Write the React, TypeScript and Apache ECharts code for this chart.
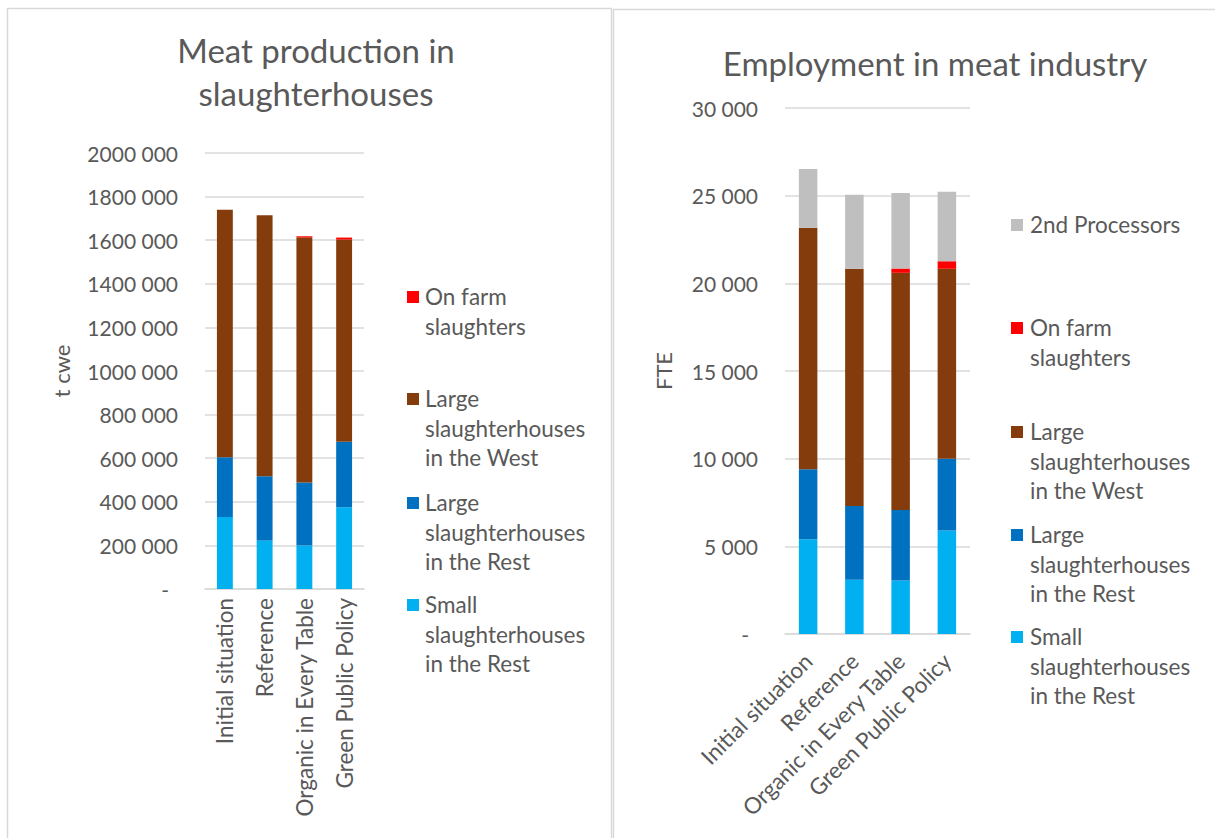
import { useEffect, useRef } from 'react';
import * as echarts from 'echarts';

const categories = ['Initial situation', 'Reference', 'Organic in Every Table', 'Green Public Policy'];

// Meat production in slaughterhouses (t cwe)
const prodSmallRest = [330000, 223000, 199000, 375000];
const prodLargeRest = [274000, 294000, 289000, 301000];
const prodLargeWest = [1136000, 1198000, 1124000, 927000];
const prodOnFarm = [0, 0, 6000, 9000];

// Employment in meat industry (FTE)
const empSmallRest = [5400, 3100, 3050, 5900];
const empLargeRest = [4000, 4200, 4020, 4100];
const empLargeWest = [13770, 13530, 13530, 10830];
const empOnFarm = [0, 0, 245, 430];
const empSecond = [3350, 4220, 4300, 3970];

const NAME_SMALL = 'Small slaughterhouses in the Rest';
const NAME_LREST = 'Large slaughterhouses in the Rest';
const NAME_LWEST = 'Large slaughterhouses in the West';
const NAME_FARM = 'On farm slaughters';
const NAME_SECOND = '2nd Processors';

const COLORS: Record<string, string> = {
  [NAME_SMALL]: '#00B0F0',
  [NAME_LREST]: '#0070C0',
  [NAME_LWEST]: '#843C0C',
  [NAME_FARM]: '#FF0000',
  [NAME_SECOND]: '#BFBFBF',
};

const WRAPPED: Record<string, string> = {
  [NAME_SMALL]: 'Small\nslaughterhouses\nin the Rest',
  [NAME_LREST]: 'Large\nslaughterhouses\nin the Rest',
  [NAME_LWEST]: 'Large\nslaughterhouses\nin the West',
  [NAME_FARM]: 'On farm\nslaughters',
  [NAME_SECOND]: '2nd Processors',
};

const FONT = 'Lato';
const TXT = '#595959';
const GRID = '#D9D9D9';

const fmt = (v: number) => {
  if (v === 0) return '{d|-}';
  const th = Math.floor(v / 1000);
  const rest = String(v % 1000).padStart(3, '0');
  return `${th} ${rest}`;
};

function legendGraphics(names: string[], markerX: number, textX: number, centers: number[]) {
  const out: any[] = [];
  names.forEach((n, i) => {
    const cy = centers[i];
    out.push({
      type: 'rect',
      shape: { x: markerX, y: cy - 6, width: 12, height: 12 },
      style: { fill: COLORS[n] },
    });
    out.push({
      type: 'text',
      x: textX,
      y: cy - 14.7,
      style: {
        text: WRAPPED[n],
        font: `22.5px ${FONT}`,
        fill: TXT,
        lineHeight: 29.4,
        verticalAlign: 'top',
        align: 'left',
      },
    });
  });
  return out;
}

function barSeries(name: string, data: number[], axisIndex: number) {
  return {
    type: 'bar',
    name,
    stack: 's' + axisIndex,
    xAxisIndex: axisIndex,
    yAxisIndex: axisIndex,
    data,
    barWidth: '40%',
    itemStyle: { color: COLORS[name] },
    emphasis: { disabled: true },
  };
}

export default function App() {
  const ref = useRef<HTMLDivElement>(null);
  useEffect(() => {
    document.body.style.margin = '0';
    const chart = echarts.init(ref.current!, null, { renderer: 'svg' });
    const yLabel = {
      fontFamily: FONT,
      fontSize: 21,
      color: TXT,
      margin: 27,
      formatter: fmt,
      rich: { d: { fontFamily: FONT, fontSize: 21, color: TXT, padding: [0, 9, 0, 0] } },
    };
    const titleStyle = { fontFamily: FONT, fontSize: 33, fontWeight: 'normal', color: TXT, lineHeight: 43 };
    const option: any = {
      animation: false,
      backgroundColor: '#ffffff',
      title: [
        {
          text: 'Meat production in\nslaughterhouses',
          left: 311,
          top: 23,
          textAlign: 'center',
          textStyle: titleStyle,
        },
        {
          text: 'Employment in meat industry',
          left: 930,
          top: 36,
          textAlign: 'center',
          textStyle: titleStyle,
        },
      ],
      grid: [
        { left: 205, top: 153, width: 159, height: 436, containLabel: false },
        { left: 785, top: 108, width: 185, height: 526, containLabel: false },
      ],
      xAxis: [
        {
          type: 'category',
          gridIndex: 0,
          data: categories,
          axisLine: { lineStyle: { color: GRID, width: 1.5 } },
          axisTick: { show: false },
          axisLabel: { interval: 0, rotate: 90, fontFamily: FONT, fontSize: 22.5, color: TXT, margin: 9 },
        },
        {
          type: 'category',
          gridIndex: 1,
          data: categories,
          axisLine: { lineStyle: { color: GRID, width: 1.5 } },
          axisTick: { show: false },
          axisLabel: { interval: 0, rotate: 45, fontFamily: FONT, fontSize: 22.5, color: TXT, margin: 23 },
        },
      ],
      yAxis: [
        {
          type: 'value',
          gridIndex: 0,
          min: 0,
          max: 2000000,
          interval: 200000,
          name: 't cwe',
          nameLocation: 'middle',
          nameGap: 133,
          nameTextStyle: { fontFamily: FONT, fontSize: 22, color: TXT },
          axisLine: { show: false },
          axisTick: { show: false },
          splitLine: { lineStyle: { color: GRID, width: 1.5 } },
          axisLabel: yLabel,
        },
        {
          type: 'value',
          gridIndex: 1,
          min: 0,
          max: 30000,
          interval: 5000,
          name: 'FTE',
          nameLocation: 'middle',
          nameGap: 111,
          nameTextStyle: { fontFamily: FONT, fontSize: 22, color: TXT },
          axisLine: { show: false },
          axisTick: { show: false },
          splitLine: { lineStyle: { color: GRID, width: 1.5 } },
          axisLabel: yLabel,
        },
      ],
      series: [
        barSeries(NAME_SMALL, prodSmallRest, 0),
        barSeries(NAME_LREST, prodLargeRest, 0),
        barSeries(NAME_LWEST, prodLargeWest, 0),
        barSeries(NAME_FARM, prodOnFarm, 0),
        barSeries(NAME_SMALL, empSmallRest, 1),
        barSeries(NAME_LREST, empLargeRest, 1),
        barSeries(NAME_LWEST, empLargeWest, 1),
        barSeries(NAME_FARM, empOnFarm, 1),
        barSeries(NAME_SECOND, empSecond, 1),
      ],
      graphic: [
        {
          type: 'rect',
          shape: { x: 7.5, y: 8.5, width: 604, height: 840 },
          style: { fill: 'none', stroke: GRID, lineWidth: 1.5 },
          z: 100,
        },
        {
          type: 'rect',
          shape: { x: 613.5, y: 9.5, width: 620, height: 840 },
          style: { fill: 'none', stroke: GRID, lineWidth: 1.5 },
          z: 100,
        },
        ...legendGraphics([NAME_FARM, NAME_LWEST, NAME_LREST, NAME_SMALL], 407, 425, [297, 399, 503, 605]),
        ...legendGraphics([NAME_SECOND, NAME_FARM, NAME_LWEST, NAME_LREST, NAME_SMALL], 1011, 1030, [225, 328, 432, 535, 637]),
      ],
    };
    chart.setOption(option);
    return () => chart.dispose();
  }, []);
  return <div ref={ref} style={{ width: 1215, height: 838 }} />;
}
